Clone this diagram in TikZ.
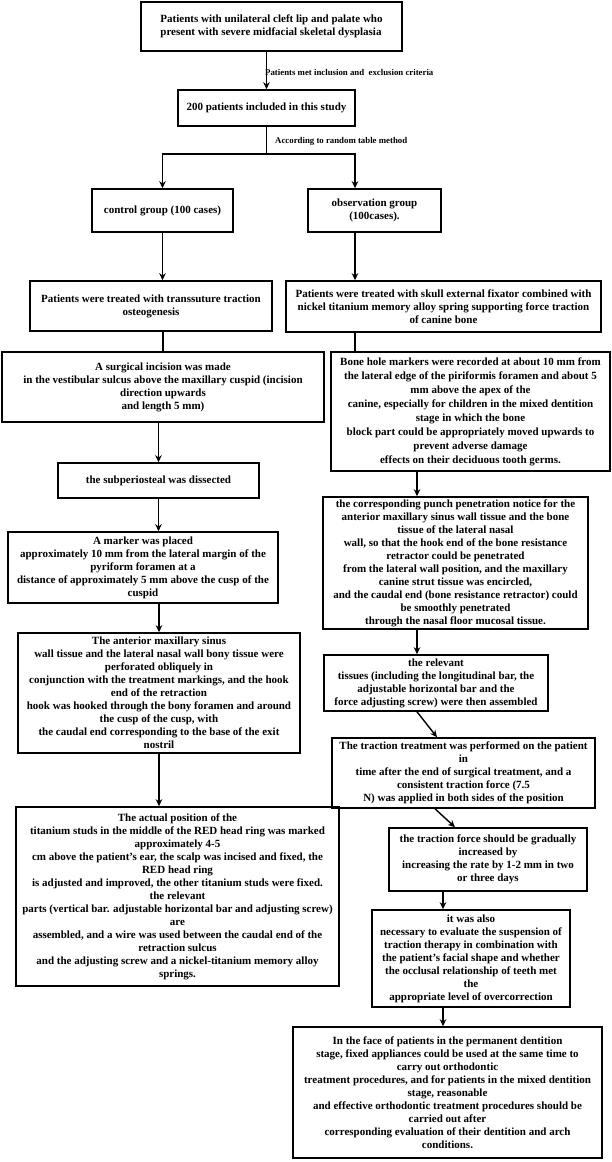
\documentclass[tikz,border=0pt]{standalone}
\usepackage{fontspec}
\setmainfont{Liberation Serif}
\usepackage{tikz}
\usetikzlibrary{shapes,arrows,arrows.meta,positioning}

\begin{document}
\begin{tikzpicture}[
  x=1pt, y=-1pt,
  flowbox/.style={rectangle, draw, line width=1.6pt, align=center, inner sep=1pt, font=\bfseries\fontsize{11}{13}\selectfont},
  note/.style={anchor=west, inner sep=0pt, font=\bfseries\fontsize{8.8}{10}\selectfont},
  arrow/.style={-{Stealth[length=7pt,width=6.5pt]},line width=1.4pt},
  conn/.style={line width=1.4pt}
]
\useasboundingbox (0,0) rectangle (612,1162);

% column guides
\coordinate (rcol) at (355,0);
\coordinate (mcol) at (417,0);
\coordinate (fcol) at (443,0);

% Top part
\node[flowbox, minimum width=261pt, minimum height=49pt, align=left] (top) at (271.5,26.5) {Patients with unilateral cleft lip and palate who\\present with severe midfacial skeletal dysplasia};
\node[flowbox, minimum width=177pt, minimum height=36pt] (study) at (266.5,108) {200 patients included in this study};
\node[note] (crit) at (265,72) {Patients met inclusion and \ exclusion criteria};
\node[note] (rand) at (275,141) {According to random table method};

% Groups
\node[flowbox, minimum width=141pt, minimum height=43pt] (control) at (162.5,210.5) {control group (100 cases)};
\node[flowbox, minimum width=133pt, minimum height=43pt] (observ) at (374.5,210.5) {observation group\\(100cases).};
\node[flowbox, minimum width=242pt, minimum height=50pt] (ltreat) at (151,306) {Patients were treated with transsuture traction\\osteogenesis};
\node[flowbox, minimum width=315pt, minimum height=51pt] (rtreat) at (443.5,306.5) {Patients were treated with skull external fixator combined with\\nickel titanium memory alloy spring supporting force traction\\of canine bone};

% Left column
\node[flowbox, minimum width=322pt, minimum height=70pt] (incision) at (163,387) {A surgical incision was made\\in the vestibular sulcus above the maxillary cuspid (incision\\direction upwards\\and length 5 mm)};
\node[flowbox, minimum width=201pt, minimum height=35pt] (subperi) at (158.5,480.5) {the subperiosteal was dissected};
\node[flowbox, minimum width=270pt, minimum height=71pt] (marker) at (143,567.5) {A marker was placed\\approximately 10 mm from the lateral margin of the\\pyriform foramen at a\\distance of approximately 5 mm above the cusp of the\\cuspid};
\node[flowbox, minimum width=282pt, minimum height=120pt] (anterior) at (159,693) {The anterior maxillary sinus\\wall tissue and the lateral nasal wall bony tissue were\\perforated obliquely in\\conjunction with the treatment markings, and the hook\\end of the retraction\\hook was hooked through the bony foramen and around\\the cusp of the cusp, with\\the caudal end corresponding to the base of the exit\\nostril};
\node[flowbox, minimum width=323pt, minimum height=179pt] (actual) at (177.5,896.5) {The actual position of the\\titanium studs in the middle of the RED head ring was marked\\approximately 4-5\\cm above the patient's ear, the scalp was incised and fixed, the\\RED head ring\\is adjusted and improved, the other titanium studs were fixed.\\the relevant\\parts (vertical bar. adjustable horizontal bar and adjusting screw)\\are\\assembled, and a wire was used between the caudal end of the\\retraction sulcus\\and the adjusting screw and a nickel-titanium memory alloy\\springs.};

% Right column
\node[flowbox, minimum width=279pt, minimum height=119pt, font=\bfseries\fontsize{11}{14}\selectfont] (bonehole) at (470.5,411.5) {Bone hole markers were recorded at about 10 mm from\\the lateral edge of the piriformis foramen and about 5\\mm above the apex of the\\canine, especially for children in the mixed dentition\\stage in which the bone\\block part could be appropriately moved upwards to\\prevent adverse damage\\effects on their deciduous tooth germs.};
\node[flowbox, minimum width=265pt, minimum height=132pt] (punch) at (455.5,563) {the corresponding punch penetration notice for the\\anterior maxillary sinus wall tissue and the bone\\tissue of the lateral nasal\\wall, so that the hook end of the bone resistance\\retractor could be penetrated\\from the lateral wall position, and the maxillary\\canine strut tissue was encircled,\\and the caudal end (bone resistance retractor) could\\be smoothly penetrated\\through the nasal floor mucosal tissue.};
\node[flowbox, minimum width=224pt, minimum height=56pt] (relevant) at (436,683) {the relevant\\tissues (including the longitudinal bar, the\\adjustable horizontal bar and the\\force adjusting screw) were then assembled};
\node[flowbox, minimum width=263pt, minimum height=70pt] (ttreat) at (463.5,773) {The traction treatment was performed on the patient\\in\\time after the end of surgical treatment, and a\\consistent traction force (7.5\\N) was applied in both sides of the position};
\node[flowbox, minimum width=198pt, minimum height=63pt] (tforce) at (488,859.5) {the traction force should be gradually\\increased by\\increasing the rate by 1-2 mm in two\\or three days};
\node[flowbox, minimum width=198pt, minimum height=97pt] (alsoeval) at (471,958.5) {it was also\\necessary to evaluate the suspension of\\traction therapy in combination with\\the patient's facial shape and whether\\the occlusal relationship of teeth met\\the\\appropriate level of overcorrection};
\node[flowbox, minimum width=309pt, minimum height=131pt] (final) at (447.5,1092.5) {In the face of patients in the permanent dentition\\stage, fixed appliances could be used at the same time to\\carry out orthodontic\\treatment procedures, and for patients in the mixed dentition\\stage, reasonable\\and effective orthodontic treatment procedures should be\\carried out after\\corresponding evaluation of their dentition and arch\\conditions.};

% Arrows
\draw[arrow] (top.south -| study.north) -- (study.north);
\draw[conn] (study.south) -- ++(0,27) coordinate (split);
\draw[arrow] (split) -| (control.north);
\draw[arrow] (split) -| (observ.north -| rcol);
\draw[arrow] (control.south) -- (control.south |- ltreat.north);
\draw[arrow] (observ.south -| rcol) -- (rtreat.north -| rcol);
\draw[conn] (incision.north |- ltreat.south) -- (incision.north);
\draw[conn] (rtreat.south -| rcol) -- (bonehole.north -| rcol);

\draw[arrow] (subperi.north |- incision.south) -- (subperi.north);
\draw[arrow] (subperi.south) -- (subperi.south |- marker.north);
\draw[arrow] (anterior.north |- marker.south) -- (anterior.north);
\draw[arrow] (anterior.south) -- (anterior.south |- actual.north);

\draw[arrow] (bonehole.south -| mcol) -- (punch.north -| mcol);
\draw[arrow] (punch.south -| mcol) -- (relevant.north -| mcol);
\draw[arrow] (relevant.south -| mcol) -- ([xshift=-26.5pt]ttreat.north);
\draw[arrow] ([xshift=-28.5pt]ttreat.south) -- ([xshift=-33pt]tforce.north);
\draw[arrow] (tforce.south -| fcol) -- (alsoeval.north -| fcol);
\draw[arrow] (alsoeval.south -| fcol) -- (final.north -| fcol);

\end{tikzpicture}
\end{document}
